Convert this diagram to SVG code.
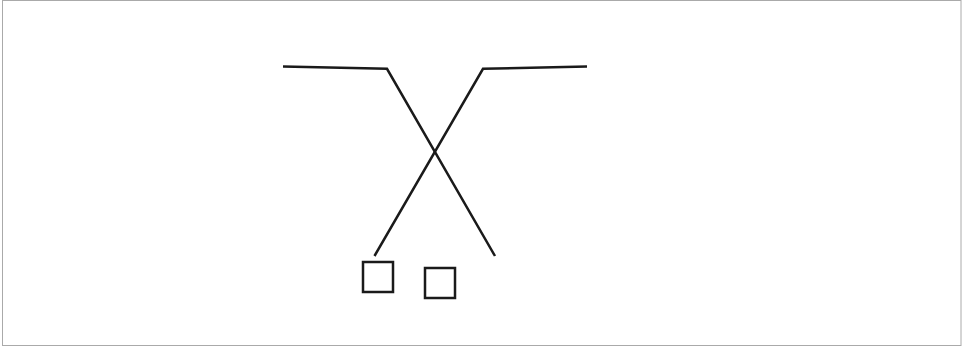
<svg xmlns="http://www.w3.org/2000/svg" width="962" height="347" viewBox="0 0 962 347">
<style>
.ln{fill:none;stroke:#1a1a1a;stroke-width:2.5;stroke-linejoin:miter;}
.bx{fill:#fff;stroke:#1a1a1a;stroke-width:2.5;}
</style>
<rect x="0" y="0" width="962" height="347" fill="#fff"/>
<rect x="2.5" y="0.5" width="958.5" height="345" fill="none" stroke="#aaa" stroke-width="1"/>
<g id="connectors">
<polyline class="ln" points="283,66.5 387,68.8 495,256"/>
<polyline class="ln" points="587,66.5 483,68.8 374.5,256"/>
</g>
<g id="node1"><rect class="bx" x="363" y="262" width="30" height="30"/></g>
<g id="node2"><rect class="bx" x="425" y="268" width="30" height="30"/></g>
</svg>
